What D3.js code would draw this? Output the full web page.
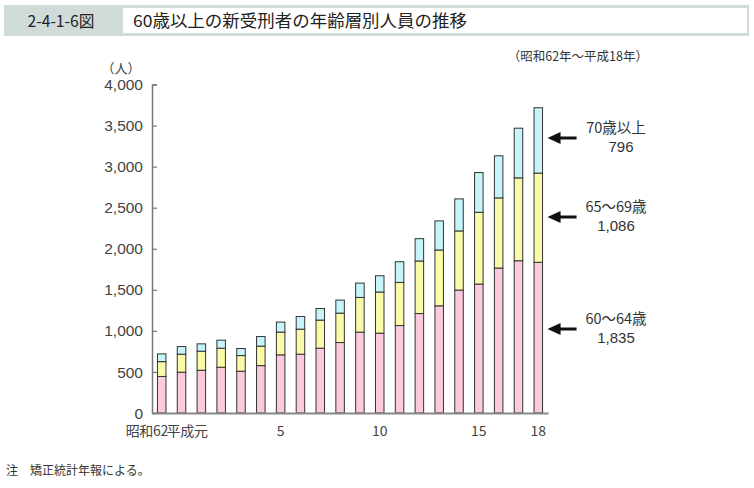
<!DOCTYPE html>
<html>
<head>
<meta charset="utf-8">
<script src="https://cdn.jsdelivr.net/npm/d3@7"></script>
<style>
  html, body { margin: 0; padding: 0; background: #fff; }
  svg { display: block; }
</style>
</head>
<body>
<svg id="chart" width="754" height="488"></svg>
<script>
// ---- data ----
const years = ["昭和62","63","平成元","2","3","4","5","6","7","8","9","10","11","12","13","14","15","16","17","18"];
const age60_64 = [445, 497, 521, 557, 509, 577, 708, 716, 789, 858, 985, 972, 1065, 1211, 1305, 1497, 1570, 1765, 1854, 1835];
const age65_69 = [180, 219, 232, 232, 190, 237, 277, 305, 342, 358, 422, 501, 525, 640, 680, 720, 874, 854, 1009, 1086];
const age70plus = [95, 93, 89, 98, 86, 117, 122, 154, 141, 159, 175, 198, 252, 272, 354, 390, 484, 513, 605, 796];
const seriesNames = ["60～64歳", "65～69歳", "70歳以上"];
const yTicks = [0, 500, 1000, 1500, 2000, 2500, 3000, 3500, 4000];
const xTickLabels = [
  { year: "昭和62", label: "昭和62" },
  { year: "平成元", label: "平成元" },
  { year: "5", label: "5" },
  { year: "10", label: "10" },
  { year: "15", label: "15" },
  { year: "18", label: "18" }
];
const annotValues = ["1,835", "1,086", "796"];

// ---- build ----
const svg = d3.select("#chart");
const colors = ["#fbcade", "#fafaa8", "#c6f4f8"];
const sansJP = "'Noto Sans CJK JP', 'Noto Sans', sans-serif";
const numFont = "'Liberation Sans', Arial, sans-serif";

// Title band
svg.append("rect").attr("x", 4).attr("y", 5).attr("width", 745).attr("height", 31).attr("fill", "#d1dbda");
svg.append("rect").attr("x", 123).attr("y", 8).attr("width", 624).attr("height", 25).attr("fill", "#fff");
svg.append("text").attr("x", 61).attr("y", 27).attr("text-anchor", "middle")
  .attr("font-family", sansJP).attr("font-size", 16).attr("fill", "#222")
  .attr("textLength", 67).attr("lengthAdjust", "spacingAndGlyphs")
  .text("2-4-1-6図");
svg.append("text").attr("x", 133).attr("y", 27)
  .attr("font-family", sansJP).attr("font-size", 16.5).attr("fill", "#222")
  .attr("textLength", 334).attr("lengthAdjust", "spacingAndGlyphs")
  .text("60歳以上の新受刑者の年齢層別人員の推移");

// Subtitle
svg.append("text").attr("x", 648).attr("y", 61).attr("text-anchor", "end")
  .attr("font-family", sansJP).attr("font-size", 12.5).attr("fill", "#333")
  .text("（昭和62年～平成18年）");

// Scales
const x = d3.scaleBand().domain(years).range([152, 548]).paddingInner(0.57).paddingOuter(0.275);
const y = d3.scaleLinear().domain([0, 4000]).range([413, 84.5]);

// Stack
const rows = years.map((yr, i) => ({ year: yr, a: age60_64[i], b: age65_69[i], c: age70plus[i] }));
const stack = d3.stack().keys(["a", "b", "c"])(rows);

const g = svg.append("g");
stack.forEach((layer, li) => {
  g.selectAll(null).data(layer).join("rect")
    .attr("x", d => x(d.data.year))
    .attr("y", d => y(d[1]))
    .attr("width", x.bandwidth())
    .attr("height", d => y(d[0]) - y(d[1]))
    .attr("fill", colors[li])
    .attr("stroke", "#333")
    .attr("stroke-width", 1);
});

// Y axis
const yAxis = d3.axisRight(y).tickValues(yTicks).tickSize(5).tickFormat("");
const yg = svg.append("g").attr("transform", "translate(152,0)").call(yAxis);
yg.select(".domain").attr("stroke", "#777").attr("stroke-width", 1.5);
yg.selectAll(".tick line").attr("stroke", "#777").attr("stroke-width", 1.2);
svg.append("g").selectAll("text").data(yTicks).join("text")
  .attr("x", 143).attr("y", d => y(d)).attr("dy", "0.36em")
  .attr("text-anchor", "end").attr("font-family", numFont).attr("font-size", 15.5).attr("fill", "#444")
  .text(d3.format(","));
svg.append("text").attr("x", 121).attr("y", 73).attr("text-anchor", "middle")
  .attr("font-family", sansJP).attr("font-size", 13).attr("fill", "#444").text("（人）");

// X axis
const xAxis = d3.axisBottom(x).tickValues(xTickLabels.map(d => d.year)).tickSize(0)
  .tickFormat(v => xTickLabels.find(d => d.year === v).label);
const xg = svg.append("g").attr("transform", "translate(0,413)").call(xAxis);
xg.select(".domain").attr("stroke", "#888").attr("stroke-width", 2);
xg.selectAll(".tick text")
  .attr("font-family", sansJP).attr("font-size", 14).attr("fill", "#444").attr("dy", "1.45em")
  .each(function (v) {
    if (v === "昭和62" || v === "平成元") {
      d3.select(this).attr("text-anchor", "end").attr("x", x.bandwidth() / 2 + 2)
        .attr("letter-spacing", "-0.3px");
    }
  });

// Annotations (arrows point at the last bar's segments)
const arrowYs = [329, 217, 138];
const arrowX0 = x("18") + x.bandwidth() + 5, arrowX1 = arrowX0 + 29;
seriesNames.forEach((name, i) => {
  const ay = arrowYs[i];
  svg.append("line").attr("x1", arrowX0 + 10).attr("x2", arrowX1).attr("y1", ay).attr("y2", ay)
    .attr("stroke", "#111").attr("stroke-width", 3);
  svg.append("path").attr("d", `M${arrowX0},${ay} L${arrowX0 + 13},${ay - 6} L${arrowX0 + 13},${ay + 6} Z`)
    .attr("fill", "#111");
  svg.append("text").attr("x", 616).attr("y", ay - 5).attr("text-anchor", "middle")
    .attr("font-family", sansJP).attr("font-size", 14.5).attr("fill", "#333").text(name);
  svg.append("text").attr("x", i === 2 ? 621 : 616).attr("y", ay + 14).attr("text-anchor", "middle")
    .attr("font-family", numFont).attr("font-size", 15).attr("fill", "#333").text(annotValues[i]);
});

// Footnote
svg.append("text").attr("x", 6).attr("y", 475)
  .attr("font-family", sansJP).attr("font-size", 12).attr("fill", "#333")
  .text("注　矯正統計年報による。");
</script>
</body>
</html>
